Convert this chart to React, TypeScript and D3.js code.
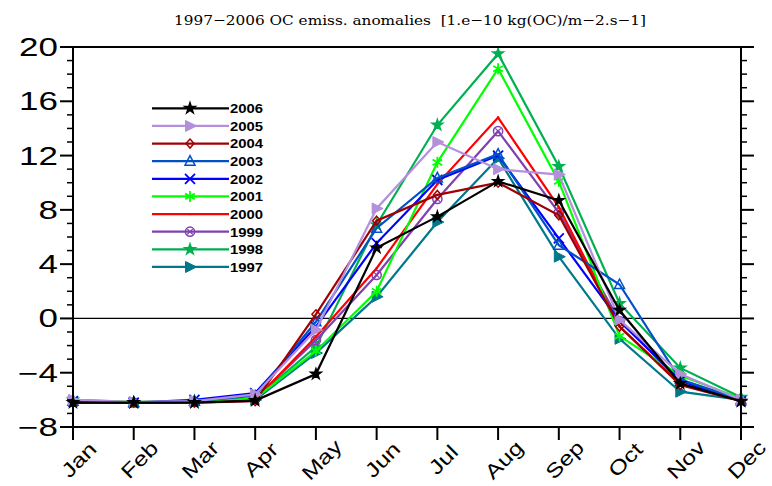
import React from "react";
import * as d3 from "d3";

const months = ["Jan", "Feb", "Mar", "Apr", "May", "Jun", "Jul", "Aug", "Sep", "Oct", "Nov", "Dec"];
const yTicks = [-8, -4, 0, 4, 8, 12, 16, 20];
const title = "1997\u22122006 OC emiss. anomalies  [1.e\u221210 kg(OC)/m\u22122.s\u22121]";

const years = ["2006", "2005", "2004", "2003", "2002", "2001", "2000", "1999", "1998", "1997"];
const colors = ["#000000", "#b48fdc", "#a00000", "#0050c8", "#0000ff", "#00ff00", "#ff0000", "#8040b0", "#00b050", "#00788c"];
const markers = ["star", "triRight", "diamond", "triUp", "x", "asterisk", "dot", "circlePlus", "flower", "triRight"];

const s2006 = [-6.2, -6.2, -6.2, -6.05, -4.1, 5.2, 7.5, 10.1, 8.7, 0.6, -4.8, -6.1];
const s2005 = [-6.0, -6.15, -6.1, -5.6, -0.85, 8.1, 13.0, 11.0, 10.6, -0.1, -4.1, -6.0];
const s2004 = [-6.2, -6.2, -6.2, -6.1, 0.3, 7.2, 9.1, 10.0, 7.6, -0.6, -4.9, -6.1];
const s2003 = [-6.1, -6.2, -6.1, -5.7, -0.25, 6.65, 10.35, 12.1, 5.4, 2.5, -4.5, -6.0];
const s2002 = [-6.1, -6.2, -6.0, -5.5, -0.6, 5.55, 10.2, 12.0, 5.9, -0.2, -4.6, -6.1];
const s2001 = [-6.0, -6.15, -6.1, -5.9, -2.4, 2.0, 11.5, 18.4, 10.1, -1.3, -4.2, -5.9];
const s2000 = [-6.2, -6.2, -6.15, -6.0, -1.35, 3.7, 9.9, 14.8, 8.2, -0.6, -4.8, -6.0];
const s1999 = [-6.15, -6.2, -6.15, -5.9, -1.6, 3.2, 8.8, 13.8, 7.8, -0.2, -4.5, -6.0];
const s1998 = [-6.0, -6.2, -6.1, -5.9, -2.1, 6.9, 14.25, 19.5, 11.2, 1.1, -3.65, -5.8];
const s1997 = [-6.1, -6.2, -6.15, -6.0, -2.55, 1.6, 7.1, 11.8, 4.55, -1.5, -5.4, -6.0];

const seriesValues = [s2006, s2005, s2004, s2003, s2002, s2001, s2000, s1999, s1998, s1997];

const W = 772;
const H = 486;
const left = 73;
const right = 741;
const top = 47;
const bottom = 427;

function Marker({ type, x, y, color }: { type: string; x: number; y: number; color: string }) {
  const t = `translate(${x},${y})`;
  switch (type) {
    case "star":
      return (
        <g transform={t}>
          <path d={d3.symbol(d3.symbolStar, 34)()!} fill={color} stroke={color} strokeWidth={1.5} />
          <circle r={2.8} fill={color} />
        </g>
      );
    case "flower":
      return (
        <g transform={t}>
          <path d={d3.symbol(d3.symbolStar, 34)()!} fill={color} stroke={color} strokeWidth={1.5} />
          <circle r={3} fill={color} />
        </g>
      );
    case "triRight":
      return <path transform={t} d="M-4.5,-5.5L6.5,0L-4.5,5.5Z" fill={color} stroke={color} strokeWidth={1} />;
    case "triUp":
      return <path transform={t} d="M0,-5.5L5,4L-5,4Z" fill="none" stroke={color} strokeWidth={1.5} />;
    case "diamond":
      return <path transform={t} d="M0,-4.5L4,0L0,4.5L-4,0Z" fill="none" stroke={color} strokeWidth={1.5} />;
    case "x":
      return <path transform={t} d="M-5,-5L5,5M-5,5L5,-5" fill="none" stroke={color} strokeWidth={1.8} />;
    case "asterisk":
      return (
        <path
          transform={t}
          d="M0,-5.5L0,5.5M-4.8,-2.8L4.8,2.8M-4.8,2.8L4.8,-2.8"
          fill="none"
          stroke={color}
          strokeWidth={1.8}
        />
      );
    case "dot":
      return <circle transform={t} r={1.2} fill={color} />;
    case "circlePlus":
      return (
        <g transform={t}>
          <circle r={4.6} fill="none" stroke={color} strokeWidth={1.5} />
          <path d="M-2.8,-2.8L2.8,2.8M-2.8,2.8L2.8,-2.8" stroke={color} strokeWidth={1.2} />
        </g>
      );
    default:
      return null;
  }
}

export default function App() {
  const x = d3.scalePoint<string>().domain(months).range([left, right]);
  const y = d3.scaleLinear().domain([-8, 20]).range([bottom, top]);
  const line = d3
    .line<number>()
    .x((_, i) => x(months[i])!)
    .y((d) => y(d));

  const minorTicks = d3.range(-8, 21, 1).filter((v) => v % 4 !== 0);
  const labelFont = "'Liberation Sans', Arial, sans-serif";

  const legendY0 = 108.3;
  const legendDy = 17.63;

  const order = d3.range(seriesValues.length).reverse();

  return (
    <svg width={W} height={H} style={{ position: "absolute", left: 0, top: 0 }}>
      <rect width={W} height={H} fill="#fff" />
      <text
        x={410}
        y={25}
        textAnchor="middle"
        fontFamily="'DejaVu Serif', 'Liberation Serif', serif"
        fontSize={13.5}
        textLength={472}
        lengthAdjust="spacingAndGlyphs"
        fill="#000"
        style={{ whiteSpace: "pre" }}
      >
        {title}
      </text>

      <line x1={left} x2={right} y1={y(0)} y2={y(0)} stroke="#000" strokeWidth={1.2} />

      {order.map((k) => (
        <g key={years[k]}>
          <path d={line(seriesValues[k])!} fill="none" stroke={colors[k]} strokeWidth={2.2} strokeLinejoin="miter" />
          {seriesValues[k].map((v, i) => (
            <Marker key={i} type={markers[k]} x={x(months[i])!} y={y(v)} color={colors[k]} />
          ))}
        </g>
      ))}

      <rect x={left} y={top} width={right - left} height={bottom - top} fill="none" stroke="#000" strokeWidth={2} />

      {yTicks.map((v) => (
        <g key={"yt" + v}>
          <line x1={left - 13} x2={left} y1={y(v)} y2={y(v)} stroke="#000" strokeWidth={2} />
          <line x1={right} x2={right + 13} y1={y(v)} y2={y(v)} stroke="#000" strokeWidth={2} />
          <text
            transform={`translate(58,${y(v) + 9}) scale(1.4,1)`}
            textAnchor="end"
            fontFamily={labelFont}
            fontSize={25}
            fill="#000"
          >
            {v < 0 ? "\u2212" + Math.abs(v) : String(v)}
          </text>
        </g>
      ))}
      {minorTicks.map((v) => (
        <g key={"mt" + v}>
          <line x1={left - 6} x2={left} y1={y(v)} y2={y(v)} stroke="#000" strokeWidth={1.5} />
          <line x1={right} x2={right + 6} y1={y(v)} y2={y(v)} stroke="#000" strokeWidth={1.5} />
        </g>
      ))}

      {months.map((m) => (
        <g key={"xt" + m}>
          <line x1={x(m)!} x2={x(m)!} y1={bottom} y2={bottom + 13} stroke="#000" strokeWidth={2} />
          <text
            transform={`translate(${x(m)! + 6},${460}) rotate(-45) scale(1.25,1)`}
            textAnchor="middle"
            dominantBaseline="central"
            fontFamily={labelFont}
            fontSize={20}
            fill="#000"
          >
            {m}
          </text>
        </g>
      ))}

      {years.map((yr, k) => {
        const ly = legendY0 + k * legendDy;
        return (
          <g key={"lg" + yr}>
            <line x1={152} x2={229} y1={ly} y2={ly} stroke={colors[k]} strokeWidth={2.2} />
            <Marker type={markers[k]} x={190} y={ly} color={colors[k]} />
            <text
              x={230}
              y={ly + 4.8}
              fontFamily={labelFont}
              fontWeight="bold"
              fontSize={13}
              textLength={33}
              lengthAdjust="spacingAndGlyphs"
              fill="#000"
            >
              {yr}
            </text>
          </g>
        );
      })}
    </svg>
  );
}
